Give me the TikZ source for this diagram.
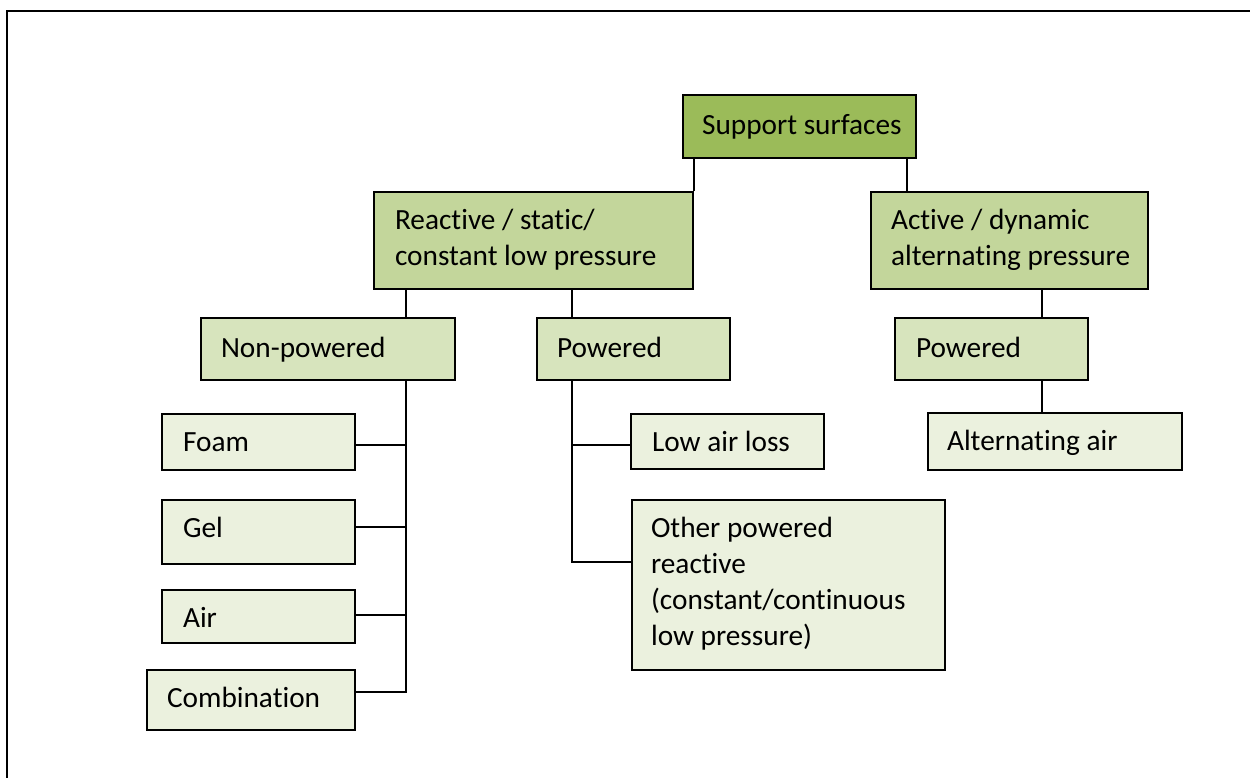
\documentclass[tikz,border=0pt]{standalone}
\usepackage{fontspec}
\setmainfont[Ligatures=NoCommon]{Carlito}
\usetikzlibrary{fit,calc}
\definecolor{lvA}{HTML}{9BBB59}
\definecolor{lvB}{HTML}{C3D69B}
\definecolor{lvC}{HTML}{D7E4BD}
\definecolor{lvD}{HTML}{EBF1DE}
\newcommand\fl{\rule{0pt}{25pt}}
\begin{document}
\begin{tikzpicture}[x=1pt,y=-1pt,
 box/.style={draw=black,line width=2.3pt,inner sep=0pt},
 txt/.style={inner sep=0pt,anchor=north west,align=left,font=\fontsize{29.3}{36}\selectfont,text=black},
 wire/.style={draw=black,line width=2pt}]
\useasboundingbox (0,0) rectangle (1250,778);
\draw[line width=2.6pt] (1250,11) -- (7,11) -- (7,778);
% boxes
\node[box,fill=lvA,fit={(683,95) (916,158)}] (root) {};
\node[txt] (rootT) at ([shift={(20,15)}]root.north west) {\fl Support surfaces};
\node[box,fill=lvB,fit={(374,192) (693,289)}] (reactive) {};
\node[txt] (reactiveT) at ([shift={(22,13)}]reactive.north west) {\fl Reactive / static/\\constant low pressure};
\node[box,fill=lvB,fit={(871,192) (1148,289)}] (active) {};
\node[txt] (activeT) at ([shift={(21,13)}]active.north west) {\fl Active / dynamic\\alternating pressure};
\node[box,fill=lvC,fit={(201,318) (455,380)}] (np) {};
\node[txt] (npT) at ([shift={(21,15)}]np.north west) {\fl Non-powered};
\node[box,fill=lvC,fit={(537,318) (730,380)}] (pw) {};
\node[txt] (pwT) at ([shift={(21,15)}]pw.north west) {\fl Powered};
\node[box,fill=lvC,fit={(895,318) (1088,380)}] (pwb) {};
\node[txt] (pwbT) at ([shift={(22,15)}]pwb.north west) {\fl Powered};
\node[box,fill=lvD,fit={(162,414) (355,470)}] (foam) {};
\node[txt] (foamT) at ([shift={(22,13)}]foam.north west) {\fl Foam};
\node[box,fill=lvD,fit={(162,500) (355,564)}] (gel) {};
\node[txt] (gelT) at ([shift={(22,13)}]gel.north west) {\fl Gel};
\node[box,fill=lvD,fit={(162,590) (355,643)}] (air) {};
\node[txt] (airT) at ([shift={(22,13)}]air.north west) {\fl Air};
\node[box,fill=lvD,fit={(147,670) (355,730)}] (comb) {};
\node[txt] (combT) at ([shift={(21,13)}]comb.north west) {\fl Combination};
\node[box,fill=lvD,fit={(631,414) (824,469)}] (lowair) {};
\node[txt] (lowairT) at ([shift={(22,13)}]lowair.north west) {\fl Low air loss};
\node[box,fill=lvD,fit={(632,500) (945,670)}] (other) {};
\node[txt] (otherT) at ([shift={(20,13)}]other.north west) {\fl Other powered\\reactive\\(constant/continuous\\low pressure)};
\node[box,fill=lvD,fit={(928,413) (1182,470)}] (alt) {};
\node[txt] (altT) at ([shift={(20,13)}]alt.north west) {\fl Alternating air};
% connectors
\draw[wire] (root.south -| reactive.north east) -- (reactive.north east);
\coordinate (rA) at ($(root.south east)+(-10,0)$);
\draw[wire] (rA) -- (rA |- active.north);
\coordinate (rB) at ($(reactive.south west)+(33,0)$);
\draw[wire] (rB) -- (rB |- np.north);
\coordinate (rC) at ($(reactive.south west)+(199,0)$);
\draw[wire] (rC) -- (rC |- pw.north);
\coordinate (aA) at ($(pwb.north west)+(148,0)$);
\draw[wire] (aA |- active.south) -- (aA);
\draw[wire] (aA |- pwb.south) -- (aA |- alt.north);
\coordinate (nA) at (rB |- np.south);
\coordinate (fA) at ($(foam.north east)+(0,32)$);
\coordinate (gA) at ($(gel.north east)+(0,28)$);
\coordinate (iA) at ($(air.north east)+(0,26)$);
\coordinate (cA) at ($(comb.north east)+(0,23)$);
\draw[wire] (nA) -- (nA |- cA) -- (cA);
\draw[wire] (fA) -- (fA -| nA);
\draw[wire] (gA) -- (gA -| nA);
\draw[wire] (iA) -- (iA -| nA);
\coordinate (pA) at (rC |- pw.south);
\coordinate (lA) at ($(lowair.north west)+(0,32)$);
\coordinate (oA) at ($(other.north west)+(0,63)$);
\draw[wire] (pA) -- (pA |- oA) -- (oA);
\draw[wire] (lA) -- (lA -| pA);
\end{tikzpicture}
\end{document}
